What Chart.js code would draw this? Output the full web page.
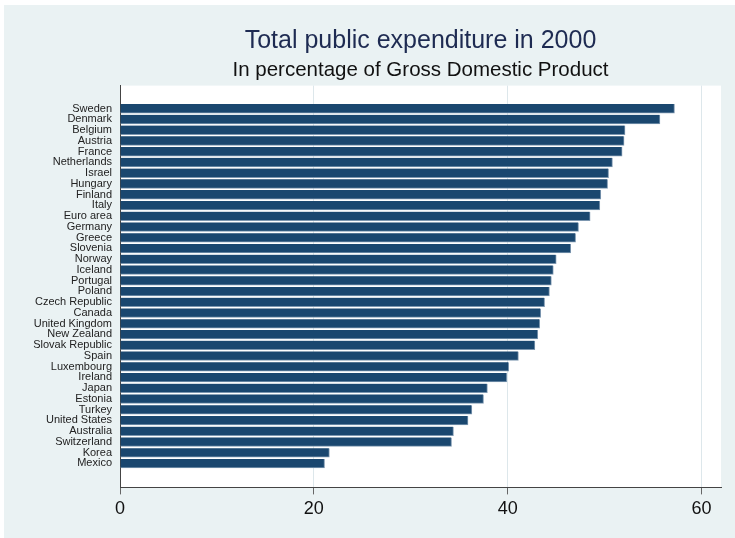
<!DOCTYPE html>
<html>
<head>
<meta charset="utf-8">
<script src="https://cdn.jsdelivr.net/npm/chart.js@4"></script>
<style>
  html, body { margin: 0; padding: 0; background: #ffffff; }
  #wrap { width: 735px; height: 538px; }
</style>
</head>
<body>
<div id="wrap"><canvas id="grafico" width="735" height="538"></canvas></div>
<script>
const countries = ['Sweden', 'Denmark', 'Belgium', 'Austria', 'France', 'Netherlands', 'Israel',
  'Hungary', 'Finland', 'Italy', 'Euro area', 'Germany', 'Greece', 'Slovenia', 'Norway',
  'Iceland', 'Portugal', 'Poland', 'Czech Republic', 'Canada', 'United Kingdom', 'New Zealand',
  'Slovak Republic', 'Spain', 'Luxembourg', 'Ireland', 'Japan', 'Estonia', 'Turkey',
  'United States', 'Australia', 'Switzerland', 'Korea', 'Mexico'];
const expenditure = [57.2, 55.7, 52.1, 52.0, 51.8, 50.8, 50.4, 50.3, 49.6, 49.5, 48.5, 47.3,
  47.0, 46.5, 45.0, 44.7, 44.5, 44.3, 43.8, 43.4, 43.3, 43.1, 42.8, 41.1, 40.1, 39.9,
  37.9, 37.5, 36.3, 35.9, 34.4, 34.2, 21.6, 21.1];
const xTicks = [0, 20, 40, 60];

const fondo = {
  id: 'fondo',
  beforeDraw(chart) {
    const c = chart.ctx, a = chart.chartArea;
    c.save();
    c.fillStyle = '#ffffff';
    c.fillRect(0, 0, chart.width, chart.height);
    c.fillStyle = '#eaf2f3';
    c.fillRect(4, 5, chart.width - 4, chart.height - 5);
    c.fillStyle = '#ffffff';
    c.fillRect(a.left, a.top, a.right - a.left, a.bottom - a.top);
    c.restore();
  }
};

new Chart(document.getElementById('grafico').getContext('2d'), {
  type: 'bar',
  data: {
    datasets: [{
      data: countries.map((c, i) => ({ x: expenditure[i], y: i })),
      backgroundColor: '#1a476f',
      borderColor: '#7d97b0',
      borderWidth: { right: 1, bottom: 1 },
      barThickness: 9
    }]
  },
  options: {
    indexAxis: 'y',
    responsive: false,
    animation: false,
    layout: { padding: { left: 0, right: 14, top: 0, bottom: 14 } },
    plugins: {
      legend: { display: false },
      tooltip: { enabled: false },
      title: {
        display: true,
        text: 'Total public expenditure in 2000',
        fullSize: false,
        color: '#1e2b52',
        font: { family: 'Liberation Sans', size: 25, weight: 'normal' },
        padding: { top: 26, bottom: 0 }
      },
      subtitle: {
        display: true,
        text: 'In percentage of Gross Domestic Product',
        fullSize: false,
        color: '#111111',
        font: { family: 'Liberation Sans', size: 20.5, weight: 'normal' },
        padding: { top: 2, bottom: 3 }
      }
    },
    scales: {
      x: {
        type: 'linear',
        min: 0,
        max: 62,
        afterBuildTicks: s => { s.ticks = xTicks.map(v => ({ value: v })); },
        grid: { color: '#dde7eb', tickColor: '#666666', tickLength: 7 },
        border: { display: true, color: '#444444' },
        ticks: { color: '#111111', font: { family: 'Liberation Sans', size: 18 }, padding: 4 }
      },
      y: {
        type: 'linear',
        reverse: true,
        offset: false,
        bounds: 'data',
        min: -2.14,
        max: 35.23,
        afterBuildTicks: s => { s.ticks = countries.map((c, i) => ({ value: i })); },
        afterFit: s => { s.width = 120; },
        grid: { display: false, drawTicks: false, offset: false },
        border: { display: true, color: '#444444' },
        ticks: {
          autoSkip: false,
          color: '#222222',
          padding: 8,
          font: { family: 'Liberation Sans', size: 11 },
          callback: v => countries[v]
        }
      }
    }
  },
  plugins: [fondo]
});
</script>
</body>
</html>
